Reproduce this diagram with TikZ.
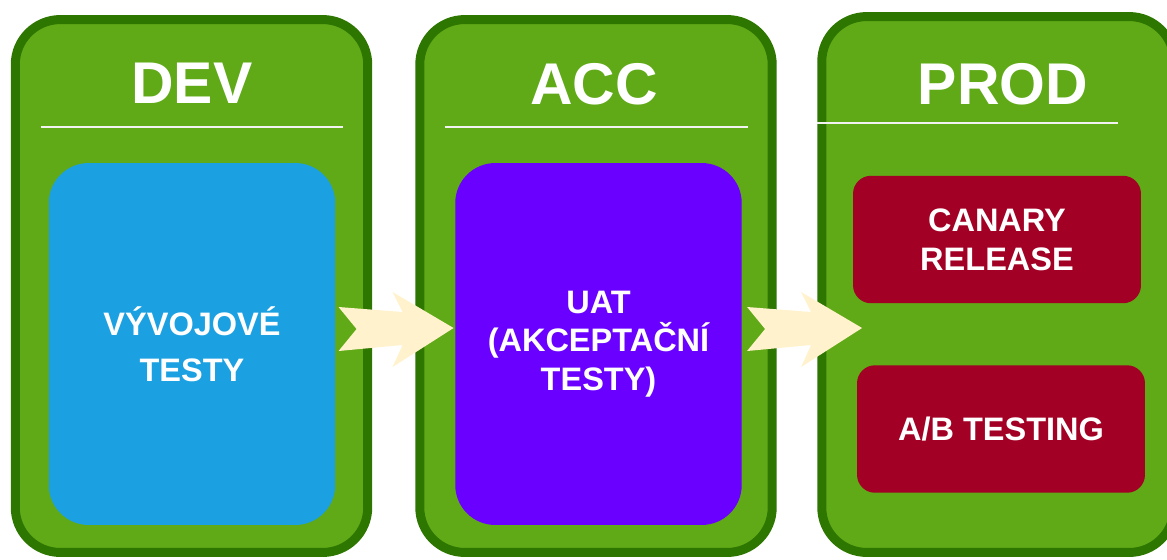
\documentclass[tikz,border=0pt]{standalone}
\usepackage{fontspec}
\setmainfont{Liberation Sans}
\usetikzlibrary{positioning,calc}

\definecolor{envfill}{HTML}{60A917}
\definecolor{envline}{HTML}{2D7600}
\definecolor{devblue}{HTML}{1BA1E2}
\definecolor{accviolet}{HTML}{6A00FF}
\definecolor{prodred}{HTML}{A20025}
\definecolor{flowfill}{HTML}{FFF2CC}

\begin{document}
\begin{tikzpicture}[
        x=0.02cm,
        y=-0.02cm,
        env/.style={draw=envline, fill=envfill, line width=0.18cm, rounded corners=0.9cm,
                    minimum width=7.05cm, minimum height=10.66cm, inner sep=0pt},
        envtitle/.style={anchor=base, text=white, font=\fontsize{33.5}{40}\selectfont\bfseries},
        divider/.style={draw=white!90!gray, line width=0.04cm},
        testbox/.style={text=white, align=center, inner sep=0pt,
                        font=\fontsize{18.5}{22}\selectfont\bfseries},
        bigbox/.style={testbox, minimum width=5.73cm, minimum height=7.24cm, rounded corners=0.8cm},
        smallbox/.style={testbox, fill=prodred, minimum width=5.76cm, minimum height=2.55cm,
                         rounded corners=0.36cm},
        fwd/.pic={
            \fill[flowfill] (0,-21) -- (64,-16) -- (54,-36) -- (115,0) -- (54,39)
                -- (64,17) -- (0,23) -- (18,1) -- cycle;
        }
    ]
        \useasboundingbox (0,0) rectangle (1167,559);

        % === ENVIRONNEMENTS ===
        \node[env] (dev) at (191.5,286) {};
        \node[env] (acc) at (596,286) {};
        \node[env, minimum height=10.72cm] (prod) at (998,284.5) {};

        \node[envtitle] (devtitle) at (192,103) {DEV};
        \node[envtitle] (acctitle) at (594,104) {ACC};
        \node[envtitle] (prodtitle) at (1003,104) {PROD};

        \draw[divider] (41,127) -- (343,127);
        \draw[divider] (445,127) -- (748,127);
        \draw[divider] (817,123) -- (1118,123);

        % === TESTY ===
        \node[bigbox, fill=devblue] (devtest) at (192,344) {VÝVOJOVÉ\\[4pt]TESTY};
        \node[bigbox, fill=accviolet] (uat) at (598.5,344) {UAT\\(AKCEPTAČNÍ\\TESTY)};
        \node[smallbox] (canary) at (997,239.5) {CANARY\\RELEASE};
        \node[smallbox] (abtest) at (1001,429) {A/B TESTING};

        % === PRECHODY ===
        \pic at ([shift={(3,-16)}]devtest.east) {fwd};
        \pic at ([shift={(5,-16)}]uat.east) {fwd};
    \end{tikzpicture}
\end{document}
